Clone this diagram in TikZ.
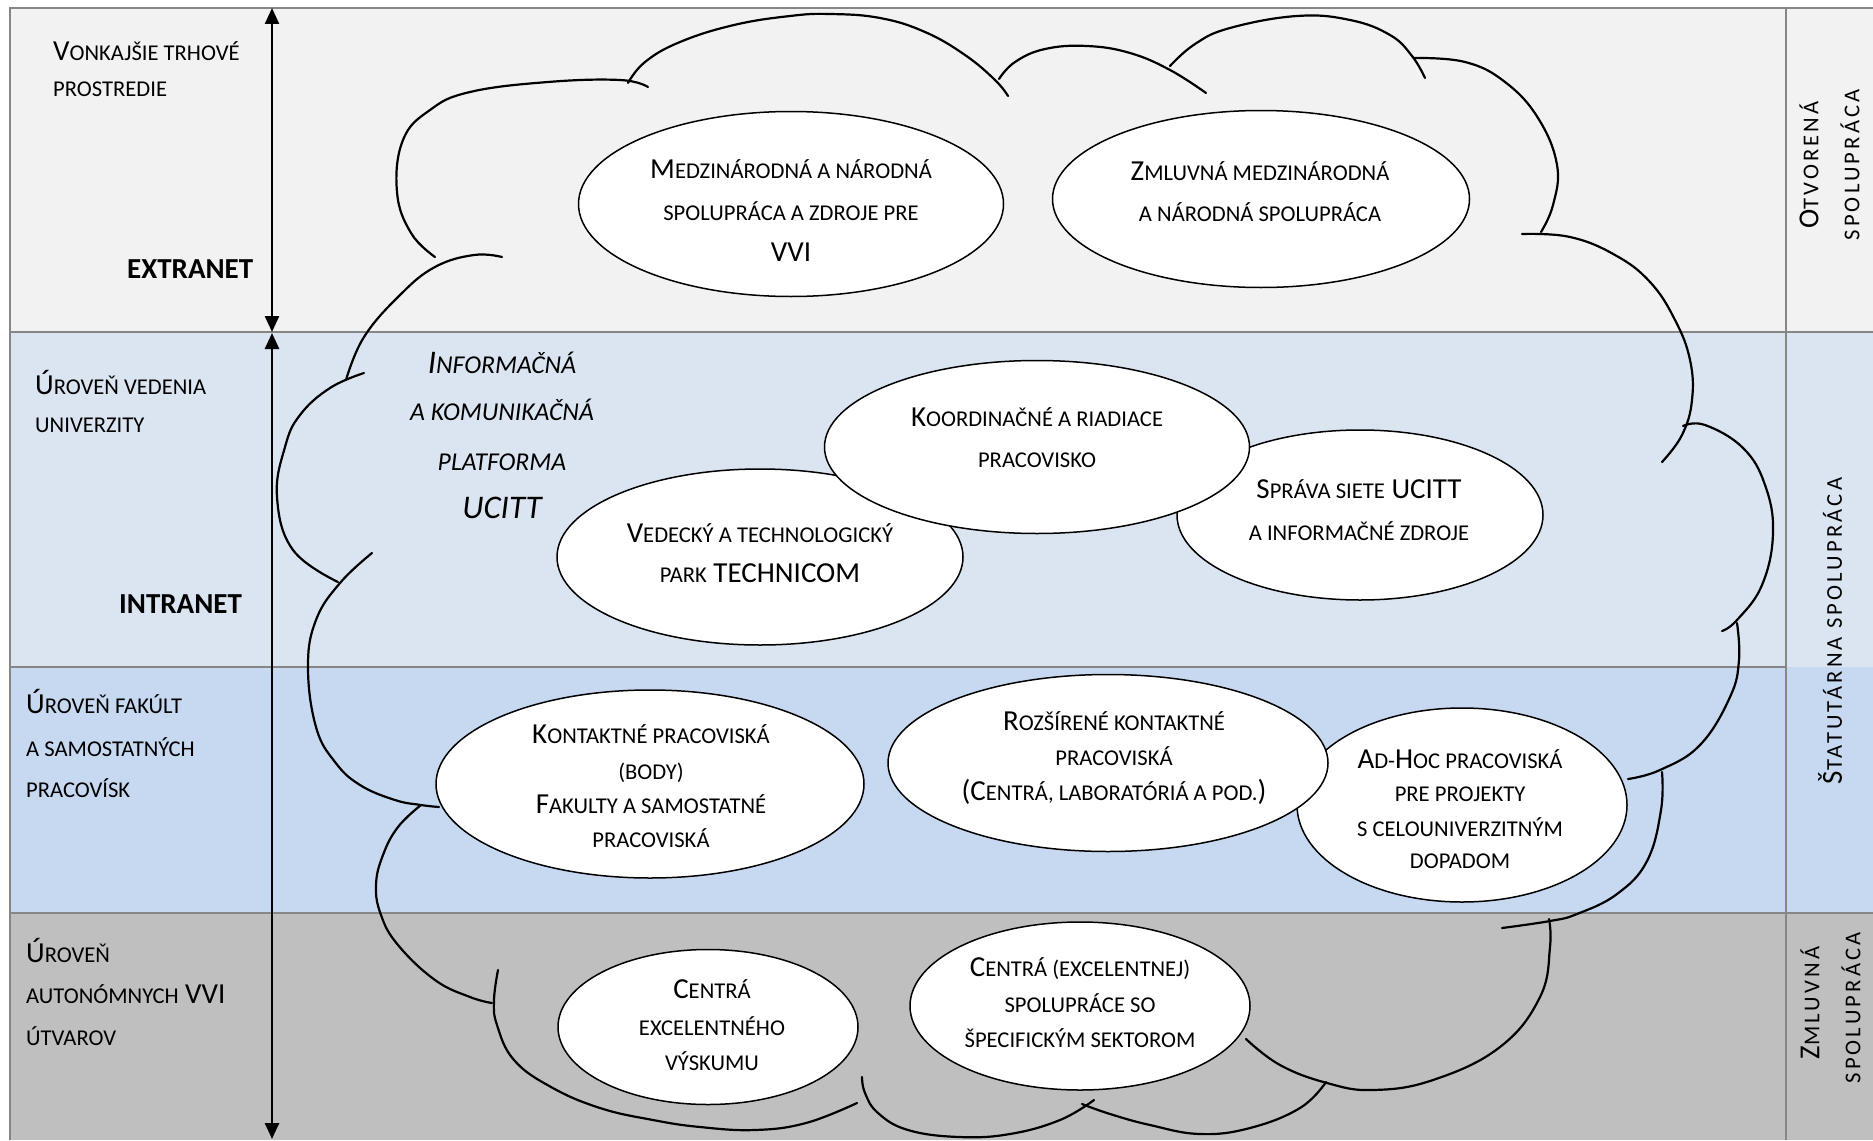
\documentclass[tikz,border=0pt]{standalone}
\usepackage{fontspec}
\setmainfont{Carlito}
\newfontfamily\trk[LetterSpace=14]{Carlito}
\usetikzlibrary{shapes.geometric,arrows.meta}
\definecolor{bandA}{HTML}{F2F2F2}
\definecolor{bandB}{HTML}{DBE5F1}
\definecolor{bandC}{HTML}{C6D9F1}
\definecolor{bandD}{HTML}{BFBFBF}
\definecolor{rulegray}{HTML}{868686}
\newcommand\sm[1]{{\fontsize{22.6}{22.6}\selectfont #1}}
\newcommand\smi[1]{{\fontsize{25.7}{25.7}\selectfont #1}}
\tikzset{
  txt/.style={font=\fontsize{29}{29}\selectfont, inner sep=0pt, anchor=base},
  ltxt/.style={txt, anchor=base west},
  btxt/.style={font=\fontsize{29}{29}\selectfont\bfseries, inner sep=0pt, anchor=base west},
  itxt/.style={font=\fontsize{33}{33}\selectfont\itshape, inner sep=0pt, anchor=base},
  rtxt/.style={font=\trk\fontsize{29}{29}\selectfont, inner sep=0pt, rotate=90},
  bubble/.style={ellipse, draw=black, line width=1.5pt, fill=white, inner sep=0pt},
  lobe/.style={line width=2.2pt, line cap=round},
  frameline/.style={draw=rulegray, line width=2.5pt},
  arr/.style={line width=2.5pt, {Triangle[width=14pt,length=16pt]}-{Triangle[width=14pt,length=16pt]}},
}
\begin{document}
\begin{tikzpicture}[x=1pt,y=-1pt]
\useasboundingbox (0,0) rectangle (1873,1140);
% bands
\fill[bandA] (10,8) rectangle (1873,332);
\fill[bandB] (10,332) rectangle (1873,667);
\fill[bandC] (10,667) rectangle (1873,913);
\fill[bandD] (10,913) rectangle (1873,1140);
\draw[frameline] (10,1140) -- (10,8) -- (1873,8);
\draw[frameline] (10,332) -- (1873,332);
\draw[frameline] (10,667) -- (1786,667);
\draw[frameline] (10,913) -- (1873,913);
\draw[frameline] (1786,8) -- (1786,1140);

% arrows
\coordinate (xtop) at (272,8);
\coordinate (xbot) at (272,332);
\coordinate (itop) at (272,333);
\coordinate (ibot) at (272,1139);
\draw[arr] (xtop) -- (xbot);
\draw[arr] (itop) -- (ibot);

% cloud
\draw[lobe] plot[smooth, tension=0.7] coordinates {(435,257) (411,233) (397,192) (403,140) (430,110) (470,92) (548,82) (620,80) (648,87)};
\draw[lobe] plot[smooth, tension=0.7] coordinates {(628,83) (645,62) (680,42) (734,25) (790,16) (830,14) (880,18) (925,32) (965,55) (995,80) (1008,96)};
\draw[lobe] plot[smooth, tension=0.7] coordinates {(999,79) (1015,62) (1045,49) (1087,46) (1130,53) (1170,70) (1206,93)};
\draw[lobe] plot[smooth, tension=0.7] coordinates {(1170,66) (1195,44) (1230,28) (1297,16) (1350,20) (1390,35) (1412,56) (1425,78)};
\draw[lobe] plot[smooth, tension=0.7] coordinates {(1414,58) (1465,62) (1505,82) (1538,118) (1557,165) (1553,205) (1541,232)};
\draw[lobe] plot[smooth, tension=0.7] coordinates {(1522,234) (1570,237) (1615,255) (1650,282) (1675,320) (1690,360) (1692,400) (1682,435) (1662,462)};
\draw[lobe] plot[smooth, tension=0.7] coordinates {(1683,426) (1705,425) (1743,448) (1765,485) (1773,533) (1762,585) (1737,620) (1722,631)};
\draw[lobe] plot[smooth, tension=0.7] coordinates {(1737,623) (1739,660) (1730,697) (1700,745) (1660,770) (1628,779)};
\draw[lobe] plot[smooth, tension=0.7] coordinates {(1662,772) (1661,810) (1647,861) (1617,894) (1577,914) (1550,921) (1502,928)};
\draw[lobe] plot[smooth, tension=0.7] coordinates {(1549,919) (1550,947) (1540,997) (1500,1047) (1433,1080) (1373,1090) (1327,1083) (1280,1065) (1246,1039)};
\draw[lobe] plot[smooth, tension=0.7] coordinates {(1326,1082) (1300,1108) (1250,1128) (1200,1134) (1150,1125) (1110,1114) (1082,1104)};
\draw[lobe] plot[smooth, tension=0.7] coordinates {(1094,1100) (1060,1120) (1010,1134) (959,1137) (908,1130) (878,1113) (865,1093) (862,1077)};
\draw[lobe] plot[smooth, tension=0.7] coordinates {(857,1103) (806,1123) (755,1130) (700,1127) (653,1120) (600,1108) (551,1087) (514,1060) (497,1025) (494,1000) (498,970)};
\draw[lobe] plot[smooth, tension=0.7] coordinates {(421,805) (398,827) (383,855) (376,885) (381,915) (398,945) (435,980) (470,997) (492,1003)};
\draw[lobe] plot[smooth, tension=0.7] coordinates {(372,553) (340,583) (316,620) (308,667) (316,727) (335,762) (360,785) (395,800) (421,805) (439,807)};
\draw[lobe] plot[smooth, tension=0.7] coordinates {(364,373) (330,388) (300,415) (285,447) (277,497) (293,550) (338,582)};
\draw[lobe] plot[smooth, tension=0.7] coordinates {(502,257) (474,255) (435,267) (400,295) (364,337) (346,380)};

% bubbles
\node[bubble, minimum width=425pt, minimum height=185pt] (e1) at (791,204) {};
\node[bubble, minimum width=417pt, minimum height=177pt] (e2) at (1261,199) {};
\node[bubble, minimum width=406pt, minimum height=176pt] (e4) at (760,557) {};
\node[bubble, minimum width=366pt, minimum height=170pt] (e5) at (1360,515) {};
\node[bubble, minimum width=425pt, minimum height=173pt] (e3) at (1037,447) {};
\node[bubble, minimum width=428pt, minimum height=188pt] (e6) at (650,784) {};
\node[bubble, minimum width=330pt, minimum height=194pt] (e8) at (1462,805) {};
\node[bubble, minimum width=440pt, minimum height=177pt] (e7) at (1108,763) {};
\node[bubble, minimum width=300pt, minimum height=155pt] (e9) at (708,1027) {};
\node[bubble, minimum width=340pt, minimum height=168pt] (e10) at (1080,1006) {};

% left labels
\node[ltxt] (l1a) at (53,61) {V\sm{ONKAJŠIE TRHOVÉ}};
\node[ltxt] (l1b) at (53,96) {\sm{PROSTREDIE}};
\node[btxt] (l1c) at (127,278) {EXTRANET};
\node[ltxt] (l2a) at (35,394) {Ú\sm{ROVEŇ VEDENIA}};
\node[ltxt] (l2b) at (35,432) {\sm{UNIVERZITY}};
\node[btxt] (l2c) at (119,613) {INTRANET};
\node[ltxt] (l3a) at (26,713) {Ú\sm{ROVEŇ FAKÚLT}};
\node[ltxt] (l3b) at (26,756) {\sm{A SAMOSTATNÝCH}};
\node[ltxt] (l3c) at (26,797) {\sm{PRACOVÍSK}};
\node[ltxt] (l4a) at (26,962) {Ú\sm{ROVEŇ}};
\node[ltxt] (l4b) at (26,1003) {\sm{AUTONÓMNYCH} VVI};
\node[ltxt] (l4c) at (26,1045) {\sm{ÚTVAROV}};

% platform label
\node[itxt] (p1) at (502,373) {I\smi{NFORMAČNÁ}};
\node[itxt] (p2) at (502,420) {\smi{A KOMUNIKAČNÁ}};
\node[itxt] (p3) at (502,470) {\smi{PLATFORMA}};
\node[itxt] (p4) at (502,518) {UCITT};

% bubble texts
\node[txt] (t1a) at (791,178) {M\sm{EDZINÁRODNÁ A NÁRODNÁ}};
\node[txt] (t1b) at (791,220) {\sm{SPOLUPRÁCA A ZDROJE PRE}};
\node[txt] (t1c) at (791,261) {VVI};
\node[txt] (t2a) at (1260,180) {Z\sm{MLUVNÁ MEDZINÁRODNÁ}};
\node[txt] (t2b) at (1260,221) {\sm{A NÁRODNÁ SPOLUPRÁCA}};
\node[txt] (t3a) at (1037,426) {K\sm{OORDINAČNÉ A RIADIACE}};
\node[txt] (t3b) at (1037,467) {\sm{PRACOVISKO}};
\node[txt] (t4a) at (760,542) {V\sm{EDECKÝ A TECHNOLOGICKÝ}};
\node[txt] (t4b) at (760,582) {\sm{PARK} TECHNICOM};
\node[txt] (t5a) at (1359,498) {S\sm{PRÁVA SIETE} UCITT};
\node[txt] (t5b) at (1359,540) {\sm{A INFORMAČNÉ ZDROJE}};
\node[txt] (t6a) at (651,743) {K\sm{ONTAKTNÉ PRACOVISKÁ}};
\node[txt] (t6b) at (651,779) {\sm{(BODY)}};
\node[txt] (t6c) at (651,813) {F\sm{AKULTY A SAMOSTATNÉ}};
\node[txt] (t6d) at (651,847) {\sm{PRACOVISKÁ}};
\node[txt] (t7a) at (1114,730) {R\sm{OZŠÍRENÉ KONTAKTNÉ}};
\node[txt] (t7b) at (1114,765) {\sm{PRACOVISKÁ}};
\node[txt] (t7c) at (1114,800) {(C\sm{ENTRÁ, LABORATÓRIÁ A POD.})};
\node[txt] (t8a) at (1460,768) {A\sm{D-}H\sm{OC PRACOVISKÁ}};
\node[txt] (t8b) at (1460,801) {\sm{PRE PROJEKTY}};
\node[txt] (t8c) at (1460,836) {\sm{S CELOUNIVERZITNÝM}};
\node[txt] (t8d) at (1460,868) {\sm{DOPADOM}};
\node[txt] (t9a) at (712,998) {C\sm{ENTRÁ}};
\node[txt] (t9b) at (712,1035) {\sm{EXCELENTNÉHO}};
\node[txt] (t9c) at (712,1070) {\sm{VÝSKUMU}};
\node[txt] (t10a) at (1080,976) {C\sm{ENTRÁ (EXCELENTNEJ)}};
\node[txt] (t10b) at (1080,1012) {\sm{SPOLUPRÁCE SO}};
\node[txt] (t10c) at (1080,1047) {\sm{ŠPECIFICKÝM SEKTOROM}};

% right column
\node[rtxt] (r1a) at (1809,165) {O\sm{TVORENÁ}};
\node[rtxt] (r1b) at (1850,165) {\sm{SPOLUPRÁCA}};
\node[rtxt] (r2) at (1830,631) {Š\sm{TATUTÁRNA SPOLUPRÁCA}};
\node[rtxt] (r3a) at (1810,1003) {Z\sm{MLUVNÁ}};
\node[rtxt] (r3b) at (1851,1008) {\sm{SPOLUPRÁCA}};
\end{tikzpicture}
\end{document}
